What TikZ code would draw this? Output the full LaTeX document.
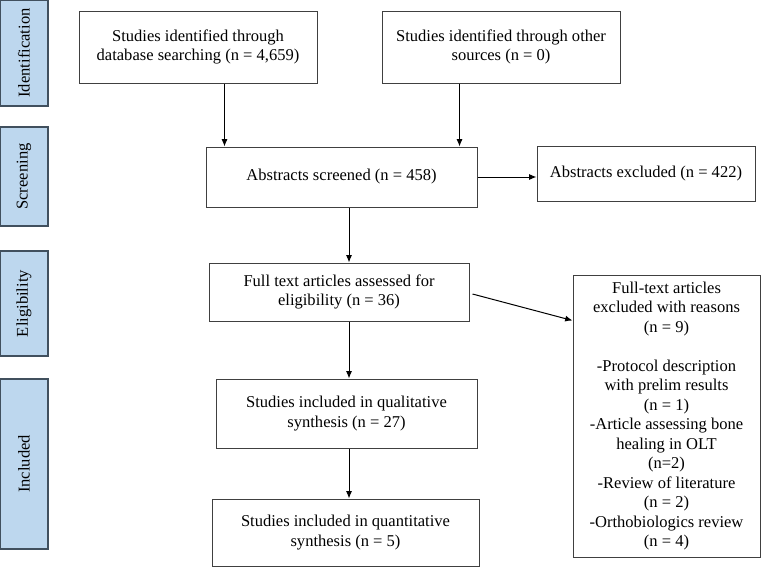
\documentclass[tikz,border=0pt]{standalone}
\usepackage{fontspec}
\setmainfont{Liberation Serif}
\usetikzlibrary{arrows.meta}
\definecolor{phasefill}{HTML}{BDD7EE}
\definecolor{phaseedge}{HTML}{41505E}

\begin{document}
\begin{tikzpicture}[>={Latex[length=5.5pt,width=4.5pt]}, x=0.75pt, y=-0.75pt,
  box/.style={draw=black!75, line width=0.75pt, align=center, inner sep=0pt,
    font=\fontsize{12.4}{14.6}\selectfont},
  phase/.style={draw=phaseedge, fill=phasefill, line width=0.9pt, rotate=90,
    minimum height=36pt, inner sep=0pt, font=\fontsize{12.4}{14.6}\selectfont}]
\useasboundingbox (0,0) rectangle (762,571);
%phases
\node[phase, minimum width=79.5pt]  (ident) at (24,53)    {Identification};
\node[phase, minimum width=74.25pt] (scrn)  at (24,176.5) {Screening};
\node[phase, minimum width=78.75pt] (elig)  at (24,303.5) {Eligibility};
\node[phase, minimum width=127.5pt] (incl)  at (24,464)   {Included};
%identification
\node[box, minimum width=178.5pt, minimum height=54pt] (db) at (198,47)
  {Studies identified through\\database searching (n = 4,659)};
\node[box, minimum width=178.5pt, minimum height=54pt] (other) at (501,47)
  {Studies identified through other\\sources (n = 0)};
%screening
\node[box, minimum width=203.25pt, minimum height=45pt] (screened) at (341.5,177)
  {Abstracts screened (n = 458)};
\node[box, minimum width=163.5pt, minimum height=41.25pt] (absexcl) at (646,173.5)
  {Abstracts excluded (n = 422)};
%eligibility
\node[box, minimum width=195pt, minimum height=43.5pt] (full) at (339,292)
  {Full text articles assessed for\\eligibility (n = 36)};
\node[box, minimum width=140.25pt, minimum height=211.5pt] (ftexcl) at (666.5,416)
  {Full-text articles\\excluded with reasons\\(n = 9)\\[14.6pt]
   -Protocol description\\with prelim results\\(n = 1)\\
   -Article assessing bone\\healing in OLT\\(n=2)\\
   -Review of literature\\(n = 2)\\
   -Orthobiologics review\\(n = 4)};
%included
\node[box, minimum width=195.75pt, minimum height=51.75pt] (qual) at (346.5,413.5)
  {Studies included in qualitative\\synthesis (n = 27)};
\node[box, minimum width=200.25pt, minimum height=50.25pt] (quant) at (345.5,532.5)
  {Studies included in quantitative\\synthesis (n = 5)};
%arrows
\coordinate (spine) at (349,0);
\draw[->, line width=0.75pt] ([xshift=14.25pt]screened.north west |- db.south) -- ([xshift=14.25pt]screened.north west);
\draw[->, line width=0.75pt] ([xshift=-13.5pt]screened.north east |- other.south) -- ([xshift=-13.5pt]screened.north east);
\draw[->, line width=0.75pt] (screened.east) -- (screened.east -| absexcl.west);
\draw[->, line width=0.75pt] (screened.south -| spine) -- (full.north -| spine);
\draw[->, line width=0.75pt] ([xshift=2.25pt,yshift=-1.5pt]full.east) -- ([yshift=-34.5pt]ftexcl.north west);
\draw[->, line width=0.75pt] (full.south -| spine) -- (qual.north -| spine);
\draw[->, line width=0.75pt] (qual.south -| spine) -- (quant.north -| spine);
\end{tikzpicture}
\end{document}
